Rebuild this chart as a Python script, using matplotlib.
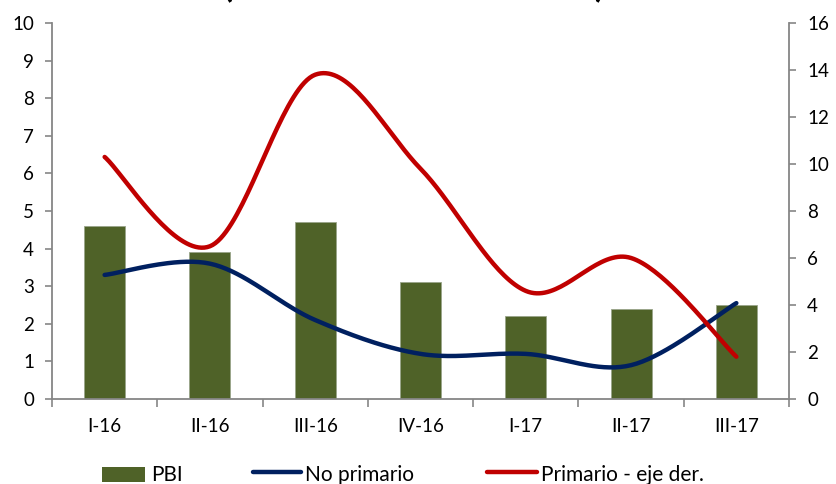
import numpy as np
import matplotlib
matplotlib.use("Agg")
import matplotlib.pyplot as plt
from matplotlib.lines import Line2D
from matplotlib.patches import Rectangle

plt.rcParams['font.family'] = ['Lato', 'DejaVu Sans']

categories = ["I-16", "II-16", "III-16", "IV-16", "I-17", "II-17", "III-17"]
pbi = [4.6, 3.9, 4.7, 3.1, 2.2, 2.4, 2.5]
no_primario = [3.3, 3.6, 2.1, 1.2, 1.2, 0.9, 2.55]
primario = [10.3, 6.5, 13.8, 9.8, 4.6, 6.0, 1.8]
legend_labels = ["PBI", "No primario", "Primario - eje der."]

BAR_COLOR = "#4F6228"
BLUE = "#002060"
RED = "#C00000"
GREY = "#868686"

W, H = 837, 484


def smooth(y, n=40):
    """Bezier smoothing through the points (spreadsheet-style smoothed line)."""
    x = np.arange(len(y), dtype=float)
    pts = np.column_stack([x, np.asarray(y, dtype=float)])
    out = []
    for i in range(len(pts) - 1):
        p0 = pts[i]
        p3 = pts[i + 1]
        prev = pts[i - 1] if i > 0 else pts[i]
        nxt = pts[i + 2] if i + 2 < len(pts) else pts[i + 1]
        p1 = p0 + (p3 - prev) / 6.0
        p2 = p3 - (nxt - p0) / 6.0
        t = np.linspace(0, 1, n)[:, None]
        seg = ((1 - t) ** 3) * p0 + 3 * ((1 - t) ** 2) * t * p1 + 3 * (1 - t) * t ** 2 * p2 + t ** 3 * p3
        out.append(seg if i == 0 else seg[1:])
    seg = np.vstack(out)
    return seg[:, 0], seg[:, 1]


def fx(px):
    return px / W


def fy(py):
    return 1 - py / H


fig = plt.figure(figsize=(W / 100, H / 100), dpi=100)
ax = fig.add_axes([fx(52), fy(399), (789 - 52) / W, (399 - 23) / H])
ax2 = ax.twinx()

x = np.arange(len(categories))
ax.bar(x, pbi, width=0.39, color=BAR_COLOR, edgecolor="#9AA58A", linewidth=0.6, zorder=2)

bx, by = smooth(no_primario)
ax.plot(bx, by, color=BLUE, linewidth=3.2, solid_capstyle="round", zorder=3)
rx, ry = smooth(primario)
ax2.plot(rx, ry, color=RED, linewidth=3.2, solid_capstyle="round", zorder=3)

ax.set_xlim(-0.5, len(categories) - 0.5)
ax.set_ylim(0, 10)
ax2.set_ylim(0, 16)
ax.set_yticks(np.arange(0, 11, 1))
ax2.set_yticks(np.arange(0, 17, 2))

ax.set_xticks(x)
ax.set_xticklabels(categories)
ax.set_xticks(np.arange(-0.5, len(categories), 1), minor=True)
ax.tick_params(axis="x", which="major", length=0, pad=14, labelsize=13.5)
ax.tick_params(axis="x", which="minor", length=6, color=GREY, width=1.2, direction="out")
ax.tick_params(axis="y", length=5, color=GREY, width=1.2, direction="out", labelsize=13.5, pad=8)
ax2.tick_params(axis="y", length=5, color=GREY, width=1.2, direction="out", labelsize=13.5, pad=8)

for a in (ax, ax2):
    a.spines["top"].set_visible(False)
    for s in ("left", "right", "bottom"):
        a.spines[s].set_color(GREY)
        a.spines[s].set_linewidth(1.3)
ax2.spines["left"].set_visible(False)
ax.spines["right"].set_visible(False)
ax2.spines["bottom"].set_visible(False)

# title, mostly above the visible canvas
fig.text(fx(414), 1 + 3 / H, "(Variación % interanual)", ha="center", va="baseline",
         fontsize=26, fontweight="bold")

# legend row along the bottom edge
fig.add_artist(Rectangle((fx(102), fy(482)), 43 / W, 15 / H, transform=fig.transFigure,
                         facecolor=BAR_COLOR, edgecolor="none"))
fig.add_artist(Line2D([fx(253), fx(301)], [fy(472), fy(472)], transform=fig.transFigure,
                      color=BLUE, linewidth=3.2, solid_capstyle="round"))
fig.add_artist(Line2D([fx(487), fx(537)], [fy(472), fy(472)], transform=fig.transFigure,
                      color=RED, linewidth=3.2, solid_capstyle="round"))
for lx, label in zip([151, 305, 541], legend_labels):
    fig.text(fx(lx), fy(481), label, ha="left", va="baseline", fontsize=15)

fig.savefig("out.png", dpi=100)
